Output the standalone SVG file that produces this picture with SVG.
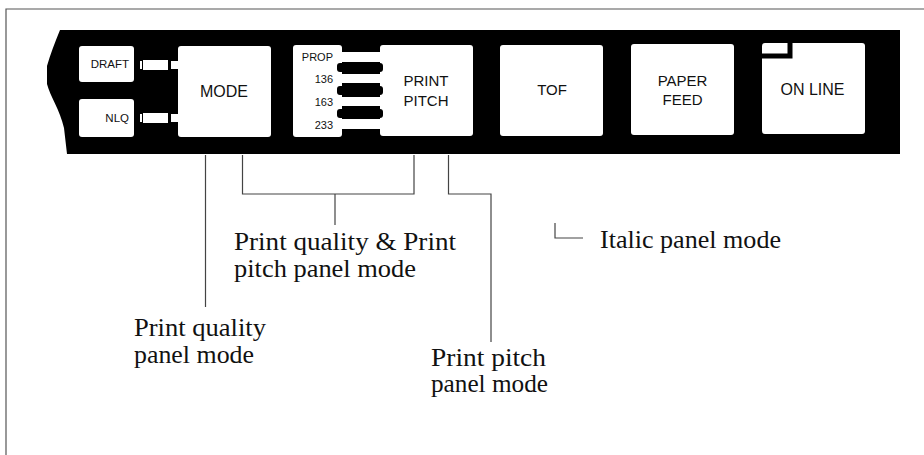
<svg xmlns="http://www.w3.org/2000/svg" width="924" height="455" viewBox="0 0 924 455">
<style>
.key{fill:#fff}
.led{fill:#fff}
.lbl{font-family:"Liberation Sans",Arial,sans-serif;fill:#111}
.cap{font-family:"Liberation Serif","Times New Roman",serif;font-size:26px;fill:#111}
.ln{fill:none;stroke:#444;stroke-width:1.2}
</style>
<rect width="924" height="455" fill="#fff"/>
<g id="frame" class="ln">
<path d="M6,455 L6,9 L924,9" stroke="#555"/>
</g>
<g id="panel">
<path d="M60,30 L900,30 L900,154 L67,154 L64,128 C60,110 50,96 47,84 L47,66 C50,55 55,42 60,30 Z" fill="#000"/>
</g>
<g id="draft">
<rect class="key" x="79" y="46" width="55" height="36" rx="3"/>
<text class="lbl" x="129" y="68" font-size="11.5" text-anchor="end">DRAFT</text>
<rect class="led" x="143" y="60" width="25" height="10"/>
<rect class="led" x="140" y="61" width="2" height="8"/>
<rect class="led" x="171" y="61" width="7" height="8"/>
</g>
<g id="nlq">
<rect class="key" x="79" y="99" width="55" height="38" rx="3"/>
<text class="lbl" x="129" y="122" font-size="11.5" text-anchor="end">NLQ</text>
<rect class="led" x="143" y="113" width="25" height="10"/>
<rect class="led" x="140" y="114" width="2" height="8"/>
<rect class="led" x="171" y="114" width="7" height="8"/>
</g>
<g id="mode">
<rect class="key" x="178" y="46" width="93" height="91" rx="3"/>
<text class="lbl" x="224" y="97" font-size="16" text-anchor="middle">MODE</text>
</g>
<g id="pitch-leds">
<rect class="key" x="293" y="45" width="49" height="92" rx="3"/>
<rect class="led" x="340" y="52" width="42" height="10"/>
<rect class="led" x="340" y="74" width="42" height="9"/>
<rect class="led" x="340" y="97" width="42" height="9"/>
<rect class="led" x="340" y="119" width="42" height="10"/>
<text class="lbl" x="333" y="61" font-size="11" text-anchor="end">PROP</text>
<text class="lbl" x="333" y="83" font-size="11" text-anchor="end">136</text>
<text class="lbl" x="333" y="106" font-size="11" text-anchor="end">163</text>
<text class="lbl" x="333" y="129" font-size="11" text-anchor="end">233</text>
</g>
<g id="print-pitch">
<rect class="key" x="380" y="45" width="93" height="91" rx="3"/>
<rect x="337" y="63" width="46" height="9" rx="3" fill="#000"/>
<rect x="337" y="86" width="46" height="9" rx="3" fill="#000"/>
<rect x="337" y="109" width="46" height="9" rx="3" fill="#000"/>
<text class="lbl" x="426" y="86" font-size="15" text-anchor="middle">PRINT</text>
<text class="lbl" x="426" y="106" font-size="15" text-anchor="middle">PITCH</text>
</g>
<g id="tof">
<rect class="key" x="500" y="45" width="103" height="91" rx="3"/>
<text class="lbl" x="552" y="95" font-size="15" text-anchor="middle">TOF</text>
</g>
<g id="paper-feed">
<rect class="key" x="631" y="44" width="103" height="91" rx="3"/>
<text class="lbl" x="682.5" y="86" font-size="15" text-anchor="middle">PAPER</text>
<text class="lbl" x="682.5" y="105" font-size="15" text-anchor="middle">FEED</text>
</g>
<g id="on-line">
<rect class="key" x="762" y="43" width="103" height="91" rx="3"/>
<path d="M762,56 L790,56 L790,43" fill="none" stroke="#000" stroke-width="5"/>
<text class="lbl" x="812.5" y="95" font-size="16" text-anchor="middle">ON LINE</text>
</g>
<g id="connectors" class="ln">
<path d="M205.5,155 L205.5,307"/>
<path d="M242.5,155 L242.5,194 L414,194 L414,155"/>
<path d="M335,194 L335,225"/>
<path d="M448.5,155 L448.5,194 L491,194 L491,342"/>
<path d="M555,223 L555,238 L583,238"/>
</g>
<g id="labels">
<text class="cap" x="234" y="250" textLength="222" lengthAdjust="spacingAndGlyphs">Print quality &amp; Print</text>
<text class="cap" x="234" y="277" textLength="182" lengthAdjust="spacingAndGlyphs">pitch panel mode</text>
<text class="cap" x="134" y="336" textLength="132" lengthAdjust="spacingAndGlyphs">Print quality</text>
<text class="cap" x="134" y="363" textLength="120" lengthAdjust="spacingAndGlyphs">panel mode</text>
<text class="cap" x="431" y="366" textLength="115" lengthAdjust="spacingAndGlyphs">Print pitch</text>
<text class="cap" x="431" y="392" textLength="117" lengthAdjust="spacingAndGlyphs">panel mode</text>
<text class="cap" x="600" y="248" textLength="181" lengthAdjust="spacingAndGlyphs">Italic panel mode</text>
</g>
</svg>
